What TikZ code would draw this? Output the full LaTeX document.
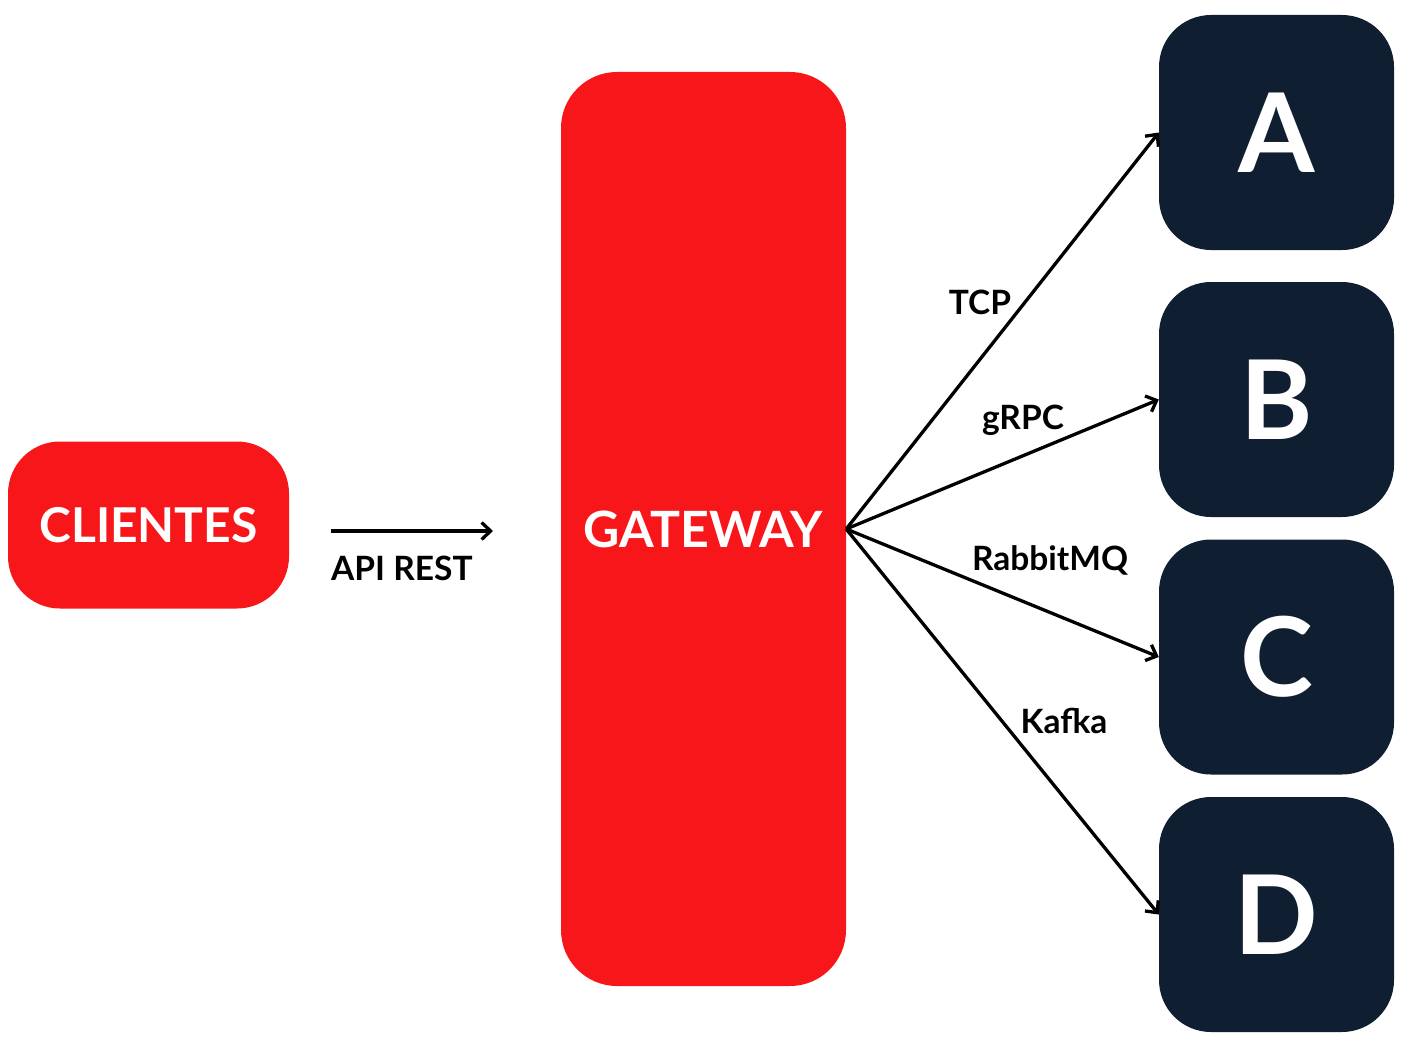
\documentclass[tikz,border=0pt]{standalone}
\usepackage{fontspec}
\setmainfont{Lato}
\usetikzlibrary{arrows.meta}
\definecolor{gwred}{HTML}{F7171A}
\definecolor{navy}{HTML}{101E32}
\begin{document}
\begin{tikzpicture}[x=1pt,y=-1pt,
  redbox/.style={fill=gwred, draw=none, rectangle, inner sep=0pt, text=white, font=\fontsize{48}{56}\selectfont\bfseries},
  svcbox/.style={fill=navy, draw=none, rectangle, rounded corners=52pt, minimum width=235pt, minimum height=235pt, inner sep=0pt, text=white, font=\fontsize{110}{120}\selectfont\bfseries},
  conn/.style={line width=3.3pt, -{Straight Barb[length=9pt,width=17pt,line width=3.3pt]}},
  lbl/.style={font=\fontsize{33.5}{38}\selectfont\bfseries, inner sep=0pt}]
\useasboundingbox (0,0) rectangle (1416,1049);
\node[redbox, rounded corners=52pt, minimum width=281pt, minimum height=167pt] (cli) at (148.5,525) {CLIENTES};
\node[redbox, font=\fontsize{50}{58}\selectfont\bfseries, rounded corners=56pt, minimum width=285pt, minimum height=914pt] (gw) at (703.5,529) {GATEWAY};
\node[svcbox] (A) at (1276.5,132.5) {A};
\node[svcbox] (B) at (1276.5,399.5) {B};
\node[svcbox] (C) at (1276.5,657) {C};
\node[svcbox] (D) at (1276.5,914.5) {D};
\coordinate (rs) at (331,531);
\coordinate (re) at (493,531);
\draw[conn] (rs) -- (re);
\node[lbl, anchor=north west] (rest) at (331,556) {API REST};
\draw[conn] (gw.east) -- (A.west);
\draw[conn] (gw.east) -- (B.west);
\draw[conn] (gw.east) -- (C.west);
\draw[conn] (gw.east) -- (D.west);
\node[lbl] (tcp) at (980,302) {TCP};
\node[lbl] (grpc) at (1023,420) {gRPC};
\node[lbl] (rmq) at (1050,560) {RabbitMQ};
\node[lbl] (kafka) at (1064,721) {Kafka};
\end{tikzpicture}
\end{document}
